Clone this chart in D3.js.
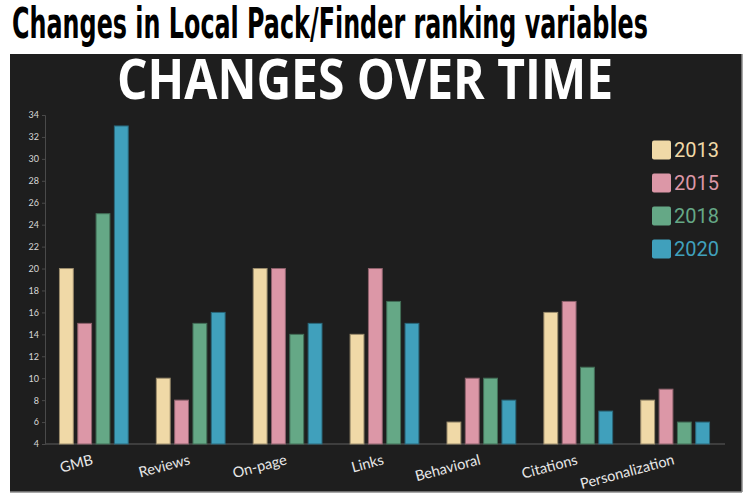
<!DOCTYPE html>
<html>
<head>
<meta charset="utf-8">
<script src="https://cdn.jsdelivr.net/npm/d3@7"></script>
<style>
  html, body { margin: 0; padding: 0; background: #ffffff; }
  svg { display: block; }
</style>
</head>
<body>
<script>
const categories = ["GMB", "Reviews", "On-page", "Links", "Behavioral", "Citations", "Personalization"];
const years = ["2013", "2015", "2018", "2020"];
const values2013 = [20, 10, 20, 14, 6, 16, 8];
const values2015 = [15, 8, 20, 20, 10, 17, 9];
const values2018 = [25, 15, 14, 17, 10, 11, 6];
const values2020 = [33, 16, 15, 15, 8, 7, 6];
const yTicks = [4, 6, 8, 10, 12, 14, 16, 18, 20, 22, 24, 26, 28, 30, 32, 34];
const colors = ["#f0d9a7", "#dc97a7", "#65a886", "#40a0bc"];

const series = [values2013, values2015, values2018, values2020];
const rows = categories.map((c, i) => ({
  cat: c,
  vals: years.map((y, j) => ({ year: y, value: series[j][i], color: colors[j] }))
}));

const W = 750, H = 500;
const svg = d3.select("body").append("svg").attr("width", W).attr("height", H);

// page title
svg.append("text")
  .attr("x", 12).attr("y", 37.5)
  .attr("textLength", 636).attr("lengthAdjust", "spacingAndGlyphs")
  .style("font-family", "'Liberation Sans Narrow', 'DejaVu Sans Condensed', 'Liberation Sans', sans-serif")
  .style("font-weight", "bold").style("font-size", "42px").attr("fill", "#000")
  .text("Changes in Local Pack/Finder ranking variables");

// dark panel
svg.append("rect").attr("x", 10).attr("y", 54).attr("width", 732).attr("height", 438)
  .attr("fill", "#1e1e1e");
svg.append("line").attr("x1", 742).attr("x2", 742).attr("y1", 54).attr("y2", 492)
  .attr("stroke", "#8a8a8a").attr("stroke-width", 1.5);
svg.append("line").attr("x1", 10).attr("x2", 742).attr("y1", 492).attr("y2", 492)
  .attr("stroke", "#8a8a8a").attr("stroke-width", 1.5);

// panel title
svg.append("text")
  .attr("x", 117).attr("y", 99)
  .attr("textLength", 496).attr("lengthAdjust", "spacingAndGlyphs")
  .style("font-family", "'Open Sans', 'Noto Sans', sans-serif")
  .style("font-weight", 700).style("font-size", "55px").attr("fill", "#ffffff")
  .text("CHANGES OVER TIME");

const x0 = d3.scaleBand().domain(categories).range([45, 724]).paddingInner(0.28).paddingOuter(0.144);
const x1 = d3.scaleBand().domain(years).range([0, x0.bandwidth()]).paddingInner(0.19).paddingOuter(0);
const y = d3.scaleLinear().domain([4, 34]).range([444, 115]);

// y axis
const yAxis = svg.append("g").attr("transform", "translate(45,0)")
  .call(d3.axisLeft(y).tickValues(yTicks).tickSize(3).tickPadding(3));
yAxis.select(".domain").attr("stroke", "#4a4a4a");
yAxis.selectAll(".tick line").attr("stroke", "#4a4a4a");
yAxis.selectAll("text").attr("fill", "#d8d8d8")
  .style("font-family", "Lato, 'Open Sans', sans-serif").style("font-size", "9px");

// x baseline
svg.append("line").attr("x1", 45).attr("x2", 725).attr("y1", 444).attr("y2", 444)
  .attr("stroke", "#4a4a4a").attr("stroke-width", 1.5);

// bars
const g = svg.append("g");
const grp = g.selectAll("g.grp").data(rows).join("g")
  .attr("transform", d => `translate(${x0(d.cat)},0)`);
grp.selectAll("rect").data(d => d.vals).join("rect")
  .attr("x", d => x1(d.year) + 0.5)
  .attr("width", x1.bandwidth() - 1)
  .attr("y", d => y(d.value))
  .attr("height", d => y(4) - y(d.value))
  .attr("fill", d => d.color)
  .attr("stroke", d => d3.color(d.color).darker(1.2))
  .attr("stroke-width", 1);

// x labels
svg.selectAll("text.xl").data(categories).join("text")
  .attr("class", "xl")
  .attr("transform", d => `translate(${x0(d) + x0.bandwidth() / 2},464) rotate(-15)`)
  .attr("text-anchor", "end")
  .style("font-family", "Lato, 'Open Sans', sans-serif").style("font-size", "14.5px")
  .attr("fill", "#e8e8e8")
  .text(d => d);

// legend
const leg = svg.append("g");
const li = leg.selectAll("g").data(years).join("g")
  .attr("transform", (d, i) => `translate(652,${150 + i * 33})`);
li.append("rect").attr("x", 0).attr("y", -9.5).attr("width", 19).attr("height", 19).attr("rx", 2)
  .attr("fill", (d, i) => colors[i]);
li.append("text").attr("x", 22).attr("y", 0).attr("dy", "0.36em")
  .style("font-family", "Roboto, sans-serif").style("font-size", "20px")
  .attr("fill", (d, i) => colors[i])
  .text(d => d);
</script>
</body>
</html>
